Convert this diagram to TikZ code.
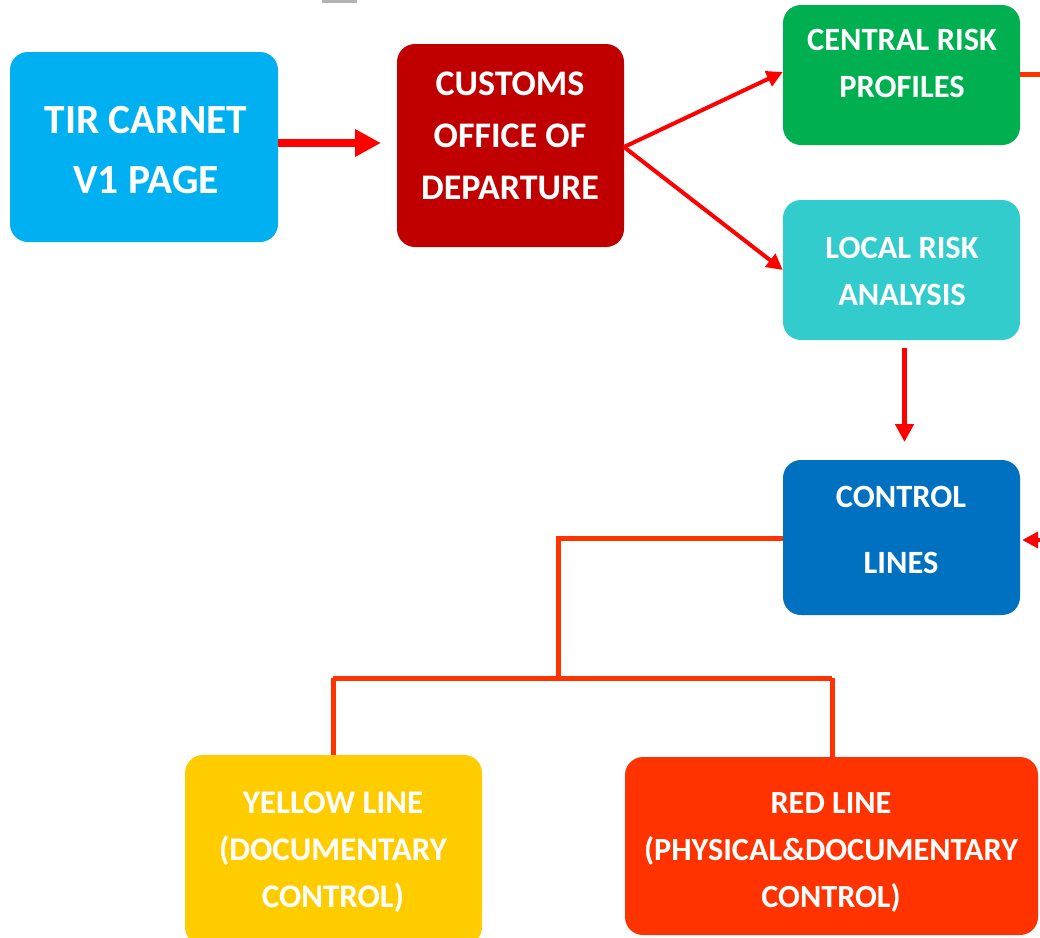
\documentclass[tikz,border=0pt]{standalone}
\usepackage{fontspec}
\setmainfont{Carlito}
\usetikzlibrary{arrows.meta}
\definecolor{cTIR}{HTML}{00B0F0}
\definecolor{cDep}{HTML}{C00000}
\definecolor{cCen}{HTML}{00B050}
\definecolor{cLoc}{HTML}{33CCCC}
\definecolor{cCtl}{HTML}{0070C0}
\definecolor{cYel}{HTML}{FFCC00}
\definecolor{cRed}{HTML}{FF3300}
\definecolor{cArr}{HTML}{FF0000}
\begin{document}
\begin{tikzpicture}[x=1pt,y=-1pt,
  box/.style={rounded corners=18pt, inner sep=0pt},
  txt/.style={text=white, align=center, inner sep=0pt},
  arr/.style={draw=cArr, line width=4pt, -{Triangle[length=16pt,width=16pt]}},
  bigarr/.style={draw=cArr, line width=8.5pt, -{Triangle[length=26pt,width=26pt]}},
  midarr/.style={draw=cArr, line width=5pt, -{Triangle[length=18pt,width=18pt]}},
  conn/.style={draw=cRed, line width=5pt}]
\useasboundingbox (0,0) rectangle (1040,937);
\clip (0,0) rectangle (1040,937);
\fill[gray!60] (322,0) rectangle (357,3);
% boxes
\node[box, fill=cTIR, minimum width=268pt, minimum height=190pt] (tir) at (144,147) {};
\node[box, fill=cDep, minimum width=227pt, minimum height=203pt] (dep) at (510.5,145.5) {};
\node[box, fill=cCen, minimum width=237pt, minimum height=140pt] (cen) at (901.5,75) {};
\node[box, fill=cLoc, minimum width=237pt, minimum height=140pt] (loc) at (901.5,270) {};
\node[box, fill=cCtl, minimum width=237pt, minimum height=155pt] (ctl) at (901.5,537.5) {};
\node[box, fill=cYel, minimum width=297pt, minimum height=190pt] (yel) at (333.5,850) {};
\node[box, fill=cRed, minimum width=413pt, minimum height=178pt] (red) at (831.5,846) {};
% texts
\node[txt, font=\bfseries\fontsize{41.5}{60}\selectfont] (tirT) at (146,150) {TIR CARNET\\V1 PAGE};
\node[txt, font=\bfseries\fontsize{36}{52}\selectfont] (depT) at (510,136) {CUSTOMS\\OFFICE OF\\DEPARTURE};
\node[txt, font=\bfseries\fontsize{32.5}{47}\selectfont] (cenT) at (902,63.5) {CENTRAL RISK\\PROFILES};
\node[txt, font=\bfseries\fontsize{32.5}{47}\selectfont] (locT) at (902,271.5) {LOCAL RISK\\ANALYSIS};
\node[txt, font=\bfseries\fontsize{32.5}{66}\selectfont] (ctlT) at (901,530) {CONTROL\\LINES};
\node[txt, font=\bfseries\fontsize{33}{47}\selectfont] (yelT) at (333,852) {YELLOW LINE\\(DOCUMENTARY\\CONTROL)};
\node[txt, font=\bfseries\fontsize{32.3}{47}\selectfont] (redT) at (831,852) {RED LINE\\(PHYSICAL\&DOCUMENTARY\\CONTROL)};
% arrows
\draw[bigarr] (tir.east |- 0,143) -- (381,143);
\coordinate (dsrc) at (624,147);
\draw[arr] (dsrc) -- (cen.west |- 0,72);
\draw[arr] (dsrc) -- (loc.west |- 0,270);
\draw[midarr] (904.5,348) -- (904.5,442);
\coordinate (cenout) at (1045,74);
\draw[conn] (cen.east |- 0,74) -- (cenout);
\coordinate (ctlin) at (1045,540);
\draw[arr] (ctlin) -- ([xshift=2pt]ctl.east |- 0,540);
% control tree
\coordinate (j1) at (558,538);
\coordinate (j2) at (558,678);
\draw[conn] (ctl.west |- 0,538) -- (j1) -- (j2);
\draw[conn] (333,678) -- (832,678);
\draw[conn] (333,678) -- (yel.north -| 333,0);
\draw[conn] (832,678) -- (red.north -| 832,0);
\end{tikzpicture}
\end{document}
